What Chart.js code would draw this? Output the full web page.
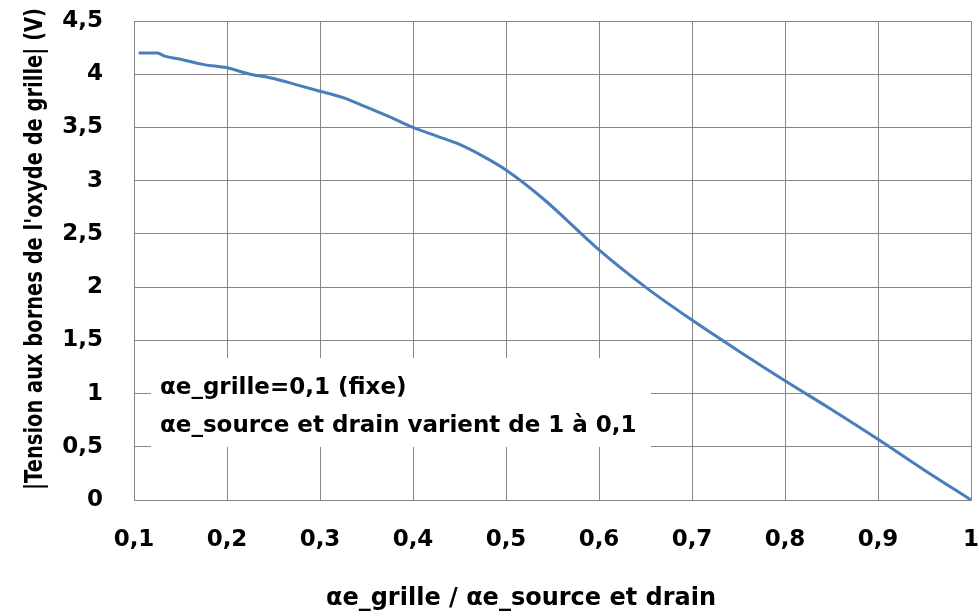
<!DOCTYPE html>
<html>
<head>
<meta charset="utf-8">
<script src="https://cdn.jsdelivr.net/npm/chart.js@4.4.0/dist/chart.umd.min.js"></script>
<style>
    html, body { margin: 0; padding: 0; background: #fff; }
</style>
</head>
<body>
<canvas id="tensionChart" width="979" height="616"></canvas>
<script>
// Values
const ratioValues = [0.105, 0.125, 0.133, 0.15, 0.175, 0.2, 0.225, 0.25, 0.275, 0.3, 0.325, 0.35, 0.375, 0.4,
    0.425, 0.45, 0.475, 0.5, 0.54, 0.6, 0.65, 0.7, 0.75, 0.8, 0.85, 0.9, 0.95, 1.0];
const tensionValues = [4.20, 4.20, 4.17, 4.14, 4.09, 4.06, 4.00, 3.96, 3.90, 3.84, 3.78, 3.69, 3.60, 3.50,
    3.42, 3.34, 3.23, 3.10, 2.83, 2.35, 2.00, 1.69, 1.40, 1.12, 0.85, 0.57, 0.28, 0.0];
const xTicks = [0.1, 0.2, 0.3, 0.4, 0.5, 0.6, 0.7, 0.8, 0.9, 1];
const yTicks = [0, 0.5, 1, 1.5, 2, 2.5, 3, 3.5, 4, 4.5];
const xTitle = 'αe_grille / αe_source et drain';
const yTitle = "|Tension aux bornes de l'oxyde de grille| (V)";
const noteLines = ['αe_grille=0,1 (fixe)', 'αe_source et drain varient de 1 à 0,1'];

const FONT = '"DejaVu Sans"';
const GRID = '#868686';

function frLabel(v) {
    return String(Math.round(v * 10) / 10).replace('.', ',');
}

// Note box + axis titles, placed like the original
const chartText = {
    id: 'chartText',
    beforeDatasetsDraw(chart) {
        const ctx = chart.ctx;
        const a = chart.chartArea;
        ctx.save();
        ctx.fillStyle = '#fff';
        ctx.fillRect(a.left + 17, a.top + 337, 500, 89);
        ctx.restore();
    },
    afterDraw(chart) {
        const ctx = chart.ctx;
        const a = chart.chartArea;
        ctx.save();
        ctx.fillStyle = '#000';
        ctx.font = 'bold 23px ' + FONT;
        ctx.textBaseline = 'alphabetic';
        ctx.textAlign = 'left';
        ctx.fillText(noteLines[0], a.left + 26, a.top + 373);
        ctx.fillText(noteLines[1], a.left + 26, a.top + 411);

        ctx.font = 'bold 24px ' + FONT;
        ctx.textAlign = 'center';
        ctx.fillText(xTitle, 521, 605);

        // y title, fitted to the length it has in the original
        ctx.font = 'bold 23px ' + FONT;
        const len = ctx.measureText(yTitle).width;
        ctx.translate(42, 249);
        ctx.rotate(-Math.PI / 2);
        ctx.scale(482 / len, 1.1);
        ctx.fillText(yTitle, 0, 0);
        ctx.restore();
    }
};

const ctx = document.getElementById('tensionChart').getContext('2d');
const tensionChart = new Chart(ctx, {
    type: 'line',
    data: {
        datasets: [{
            data: ratioValues.map((r, i) => ({ x: r, y: tensionValues[i] })),
            borderColor: '#4a7ebb',
            borderWidth: 3,
            pointRadius: 0,
            fill: false,
            cubicInterpolationMode: 'monotone'
        }]
    },
    options: {
        responsive: false,
        animation: false,
        layout: { padding: { top: 21, right: 8, left: 0, bottom: 0 } },
        plugins: {
            legend: { display: false },
            tooltip: { enabled: false }
        },
        scales: {
            x: {
                type: 'linear',
                min: 0.1,
                max: 1,
                afterBuildTicks: scale => { scale.ticks = xTicks.map(v => ({ value: v })); },
                afterFit: scale => {
                    scale.height = 116;
                    scale.paddingLeft = 0;
                    scale.paddingRight = 0;
                },
                grid: { color: GRID, lineWidth: 1, drawTicks: false },
                border: { color: GRID, width: 1 },
                ticks: {
                    padding: 26,
                    color: '#000',
                    font: { family: FONT, size: 23, weight: 'bold' },
                    maxRotation: 0,
                    callback: v => frLabel(v)
                }
            },
            y: {
                min: 0,
                max: 4.5,
                afterBuildTicks: scale => { scale.ticks = yTicks.map(v => ({ value: v })); },
                afterFit: scale => {
                    scale.width = 134;
                    scale.paddingTop = 0;
                    scale.paddingBottom = 0;
                },
                grid: { color: GRID, lineWidth: 1, drawTicks: false },
                border: { color: GRID, width: 1 },
                ticks: {
                    padding: 31,
                    color: '#000',
                    font: { family: FONT, size: 23, weight: 'bold' },
                    callback: v => frLabel(v)
                }
            }
        }
    },
    plugins: [chartText]
});
</script>
</body>
</html>
